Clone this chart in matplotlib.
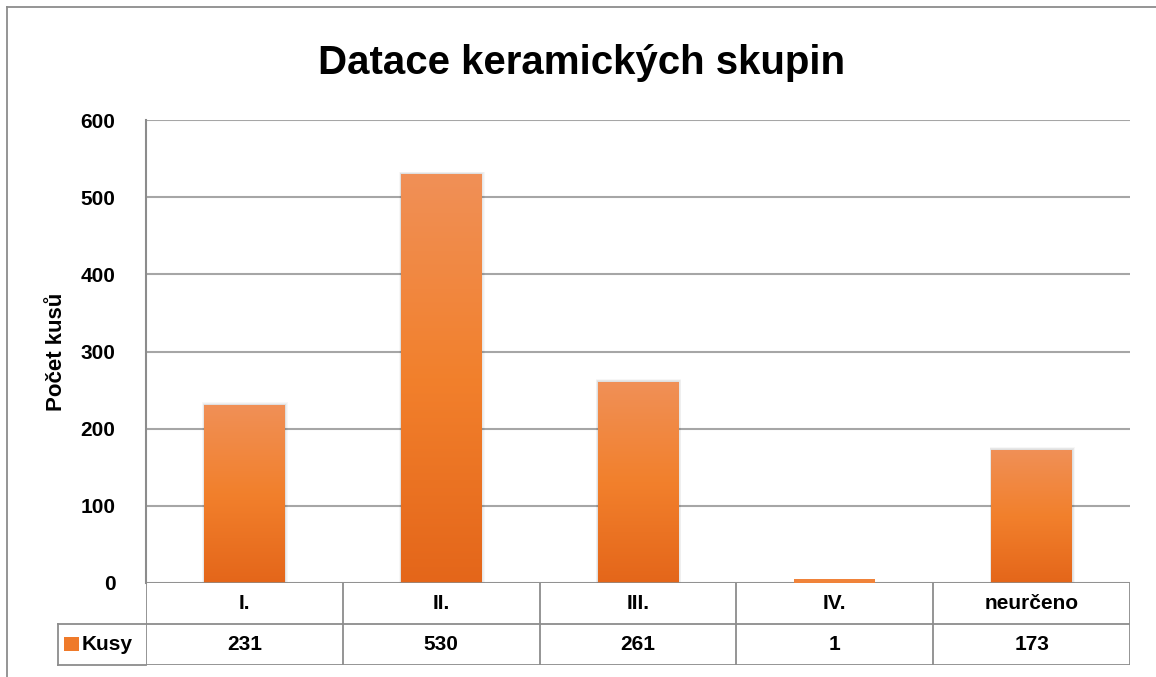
import matplotlib.pyplot as plt
import matplotlib.patches as mpatches
import numpy as np
from matplotlib import font_manager
from matplotlib.colors import LinearSegmentedColormap

# data
categories = ['I.', 'II.', 'III.', 'IV.', 'neurčeno']
values = [231, 530, 261, 1, 173]
series_name = 'Kusy'
yticks = [0, 100, 200, 300, 400, 500, 600]

names = {f.name for f in font_manager.fontManager.ttflist}
FONT = 'Liberation Sans Narrow' if 'Liberation Sans Narrow' in names else 'Liberation Sans'
plt.rcParams['font.family'] = [FONT, 'DejaVu Sans']

W, H = 1156, 677
fig = plt.figure(figsize=(W / 100, H / 100), dpi=100)

def fx(px):
    return px / W

def fy(py):
    return 1 - py / H

# outer chart frame (only top and left visible)
fig.add_artist(plt.Line2D([fx(7), fx(7)], [fy(7), 0], color='#8c8c8c', lw=1.3))
fig.add_artist(plt.Line2D([fx(7), 1], [fy(7), fy(7)], color='#8c8c8c', lw=1.3))

left, right, top, bottom = 146, 1130, 120, 583
ax = fig.add_axes([fx(left), fy(bottom), fx(right - left), fy(top) - fy(bottom)])
x = np.arange(len(categories))
ax.set_yticks(yticks)
ax.set_yticklabels([str(t) for t in yticks], fontsize=15, fontweight='bold')
ax.tick_params(axis='y', length=0, pad=22)
ax.set_xticks([])
for s in ['top', 'right', 'bottom']:
    ax.spines[s].set_visible(False)
ax.spines['left'].set_color('#8c8c8c')
ax.spines['left'].set_linewidth(1.5)
for t in yticks:
    ax.axhline(t, color='#a6a6a6', lw=1.5, zorder=0)
ax.axhline(0, color='#8c8c8c', lw=1.8, zorder=5)

ax.set_ylabel('Počet kusů', fontsize=16, fontweight='bold', labelpad=10)

# gradient bars with soft shadow
bw = 0.41
grad = np.linspace(0, 1, 256).reshape(-1, 1)
cmap = LinearSegmentedColormap.from_list('og', ['#e4661a', '#f2802c', '#f09057'])
bars = ax.bar(x, values, width=bw, color='none', zorder=3)
for b in bars:
    bx, by = b.get_x(), b.get_y()
    bwid, bh = b.get_width(), b.get_height()
    if bh > 10:
        for k in range(1, 5):
            sh = mpatches.Rectangle((bx - 0.002 * k, by), bwid + 0.006 * k, bh + 0.8 * k,
                                    facecolor='#000000', alpha=0.03, lw=0, zorder=2)
            ax.add_patch(sh)
        im = ax.imshow(grad, cmap=cmap, aspect='auto', origin='lower',
                       extent=[bx, bx + bwid, by, by + bh], zorder=3)
        im.set_clip_path(mpatches.Rectangle((bx, by), bwid, bh, transform=ax.transData))
    else:
        # tiny bar: keep it visible as a thin line just above the axis
        ax.add_patch(mpatches.Rectangle((bx, by), bwid, max(bh, 5), facecolor='#f0833a',
                                        lw=0, zorder=6))
ax.set_xlim(-0.5, len(categories) - 0.5)
ax.set_ylim(0, 600)

fig.text(0.503, fy(74), 'Datace keramických skupin', fontsize=29, fontweight='bold',
         ha='center', va='baseline')

# data table under the plot
tb_top, tb_mid, tb_bot = 583, 625, 665
tax = fig.add_axes([fx(left), fy(tb_bot), fx(right - left), fy(tb_top) - fy(tb_bot)])
tax.set_xlim(-0.5, len(categories) - 0.5)
tax.set_ylim(0, 2)
tax.axis('off')
lc = '#8c8c8c'
lw = 1.3
tax.plot([-0.5, len(categories) - 0.5], [1, 1], color=lc, lw=lw)
tax.plot([-0.5, len(categories) - 0.5], [0, 0], color=lc, lw=lw)
for i in range(len(categories) + 1):
    tax.plot([i - 0.5, i - 0.5], [0, 2], color=lc, lw=lw)
leg_w = (left - 58) / ((right - left) / len(categories))
tax.plot([-0.5 - leg_w, -0.5], [1, 1], color=lc, lw=lw, clip_on=False)
tax.plot([-0.5 - leg_w, -0.5], [0, 0], color=lc, lw=lw, clip_on=False)
tax.plot([-0.5 - leg_w, -0.5 - leg_w], [0, 1], color=lc, lw=lw, clip_on=False)
for i, (c, v) in enumerate(zip(categories, values)):
    tax.text(i, 1.5, c, ha='center', va='center', fontsize=15, fontweight='bold')
    tax.text(i, 0.5, str(v), ha='center', va='center', fontsize=15, fontweight='bold')
tax.add_patch(mpatches.Rectangle((-0.5 - leg_w + 0.03, 0.33), 0.075, 0.36,
                                 facecolor='#ef7a2a', lw=0, clip_on=False))
tax.text(-0.5 - leg_w + 0.12, 0.5, series_name, ha='left', va='center',
         fontsize=15, fontweight='bold')

fig.savefig('out.png', dpi=100)
